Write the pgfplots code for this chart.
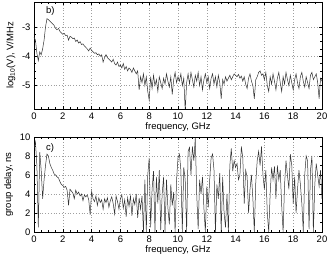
\documentclass[border=0pt]{standalone}
\usepackage{fontspec}
\setmainfont{Liberation Sans}
\usepackage{pgfplots}
\pgfplotsset{compat=1.18}
\usepackage{pgfplotstable}

\pgfplotstableread{
f v
0.0 -3.35
0.1 -3.45
0.2 -3.9
0.3 -4.15
0.4 -3.85
0.5 -3.95
0.6 -3.75
0.7 -3.45
0.8 -3.0
0.9 -2.72
1.0 -2.75
1.1 -2.8
1.2 -2.85
1.3 -2.9
1.4 -2.95
1.5 -3.05
1.6 -3.1
1.7 -3.05
1.8 -3.15
1.9 -3.2
2.0 -3.25
2.1 -3.22
2.2 -3.3
2.3 -3.28
2.4 -3.45
2.5 -3.32
2.6 -3.35
2.7 -3.4
2.8 -3.38
2.9 -3.5
3.0 -3.45
3.1 -3.55
3.2 -3.5
3.3 -3.6
3.4 -3.58
3.5 -3.65
3.6 -3.7
3.7 -3.75
3.8 -3.82
3.9 -3.72
4.0 -3.8
4.1 -3.85
4.2 -3.9
4.3 -3.88
4.4 -3.95
4.5 -3.92
4.6 -4.0
4.7 -3.95
4.8 -4.2
4.9 -4.05
5.0 -3.95
5.1 -4.05
5.2 -4.1
5.3 -4.15
5.4 -4.2
5.5 -4.1
5.6 -4.25
5.7 -4.3
5.8 -4.2
5.9 -4.35
6.0 -4.3
6.1 -4.4
6.2 -4.25
6.3 -4.45
6.4 -4.35
6.5 -4.5
6.6 -4.4
6.7 -4.45
6.8 -4.55
6.9 -4.4
7.0 -4.5
7.1 -4.6
7.2 -4.5
7.3 -5.15
7.4 -4.7
7.5 -4.9
7.6 -4.6
7.7 -5.0
7.8 -4.7
7.9 -5.2
8.0 -5.5
8.1 -4.7
8.2 -5.1
8.3 -4.65
8.4 -5.0
8.5 -4.8
8.6 -5.2
8.7 -4.7
8.8 -4.9
8.9 -5.1
9.0 -4.75
9.1 -4.95
9.2 -4.6
9.3 -4.85
9.4 -5.05
9.5 -4.7
9.6 -5.3
9.7 -4.8
9.8 -4.55
9.9 -4.9
10.0 -4.7
10.1 -4.85
10.2 -4.6
10.3 -5.0
10.4 -4.75
10.5 -5.85
10.6 -4.9
10.7 -4.6
10.8 -4.95
10.9 -4.55
11.0 -4.8
11.1 -5.05
11.2 -4.65
11.3 -4.85
11.4 -4.55
11.5 -5.0
11.6 -4.7
11.7 -5.15
11.8 -4.8
11.9 -4.6
12.0 -4.9
12.1 -4.7
12.2 -5.1
12.3 -4.75
12.4 -4.6
12.5 -4.95
12.6 -4.7
12.7 -5.05
12.8 -4.65
12.9 -4.9
13.0 -5.45
13.1 -4.8
13.2 -4.95
13.3 -4.7
13.4 -4.85
13.5 -4.75
13.6 -4.65
13.7 -4.8
13.8 -4.7
13.9 -4.6
14.0 -4.65
14.1 -4.7
14.2 -4.62
14.3 -4.75
14.4 -4.68
14.5 -4.85
14.6 -4.7
14.7 -4.95
14.8 -5.1
14.9 -4.75
15.0 -4.6
15.1 -4.85
15.2 -5.0
15.3 -5.45
15.4 -4.8
15.5 -4.7
15.6 -4.55
15.7 -4.5
15.8 -4.65
15.9 -4.6
16.0 -4.8
16.1 -4.55
16.2 -5.0
16.3 -5.2
16.4 -4.7
16.5 -4.95
16.6 -4.6
16.7 -4.85
16.8 -5.15
16.9 -4.75
17.0 -4.55
17.1 -4.9
17.2 -5.2
17.3 -4.7
17.4 -4.95
17.5 -4.55
17.6 -4.8
17.7 -5.0
17.8 -4.65
17.9 -4.9
18.0 -5.15
18.1 -4.8
18.2 -4.6
18.3 -4.9
18.4 -5.1
18.5 -4.7
18.6 -4.55
18.7 -4.85
18.8 -5.05
18.9 -4.7
19.0 -4.9
19.1 -5.1
19.2 -4.65
19.3 -4.55
19.4 -4.8
19.5 -4.7
19.6 -4.6
19.7 -4.9
19.8 -5.45
19.9 -4.75
20.0 -4.85
}\topdata

\pgfplotstableread{
f g
0.0 8.8
0.1 9.5
0.2 7.0
0.3 0.5
0.4 8.4
0.5 6.5
0.6 3.5
0.7 5.5
0.8 7.0
0.9 8.2
1.0 8.0
1.1 7.2
1.2 6.8
1.3 6.5
1.4 6.1
1.5 6.0
1.6 5.8
1.7 5.7
1.8 5.3
1.9 5.0
2.0 4.9
2.1 4.7
2.2 4.8
2.3 4.4
2.4 2.8
2.5 4.5
2.6 4.3
2.7 4.1
2.8 3.5
2.9 4.4
3.0 4.0
3.1 4.2
3.2 3.8
3.3 4.0
3.4 3.3
3.5 3.9
3.6 3.7
3.7 3.9
3.8 3.4
3.9 1.8
4.0 4.3
4.1 3.5
4.2 3.2
4.3 3.8
4.4 2.8
4.5 3.6
4.6 3.1
4.7 3.4
4.8 2.4
4.9 3.5
5.0 3.1
5.1 3.6
5.2 2.6
5.3 3.3
5.4 3.7
5.5 3.0
5.6 1.9
5.7 3.8
5.8 3.2
5.9 2.4
6.0 3.5
6.1 3.9
6.2 2.5
6.3 3.4
6.4 1.6
6.5 3.6
6.6 2.7
6.7 3.8
6.8 1.7
6.9 3.5
7.0 2.9
7.1 4.0
7.2 1.5
7.3 3.6
7.4 2.4
7.5 3.8
7.6 0.0
7.7 5.5
7.8 0.0
7.9 6.0
8.0 7.8
8.1 0.5
8.2 4.5
8.3 6.4
8.4 0.0
8.5 5.8
8.6 3.0
8.7 6.5
8.8 0.2
8.9 4.0
9.0 5.8
9.1 0.0
9.2 5.5
9.3 2.5
9.4 0.8
9.5 5.0
9.6 2.8
9.7 4.2
9.8 0.0
9.9 5.5
10.0 7.8
10.1 8.2
10.2 6.5
10.3 0.0
10.4 6.8
10.5 5.5
10.6 0.0
10.7 8.5
10.8 8.9
10.9 6.0
11.0 9.0
11.1 7.5
11.2 9.9
11.3 4.0
11.4 0.3
11.5 5.5
11.6 4.0
11.7 5.8
11.8 2.5
11.9 0.0
12.0 4.8
12.1 2.6
12.2 5.5
12.3 7.8
12.4 8.2
12.5 6.5
12.6 0.0
12.7 5.0
12.8 3.5
12.9 6.2
13.0 0.0
13.1 5.8
13.2 2.0
13.3 0.5
13.4 4.0
13.5 0.0
13.6 7.0
13.7 8.8
13.8 6.4
13.9 7.5
14.0 6.8
14.1 7.2
14.2 5.5
14.3 6.0
14.4 9.0
14.5 7.8
14.6 3.0
14.7 6.5
14.8 5.8
14.9 2.0
15.0 4.5
15.1 6.0
15.2 3.5
15.3 0.0
15.4 5.2
15.5 7.5
15.6 8.5
15.7 7.0
15.8 9.0
15.9 6.0
16.0 4.5
16.1 6.5
16.2 2.0
16.3 0.0
16.4 4.0
16.5 6.8
16.6 5.5
16.7 6.9
16.8 3.5
16.9 7.0
17.0 5.5
17.1 6.5
17.2 2.8
17.3 0.0
17.4 5.0
17.5 7.5
17.6 6.0
17.7 4.5
17.8 8.2
17.9 7.0
18.0 3.0
18.1 5.8
18.2 2.0
18.3 4.5
18.4 6.5
18.5 5.0
18.6 3.0
18.7 0.0
18.8 6.0
18.9 8.0
19.0 7.5
19.1 0.3
19.2 6.5
19.3 8.0
19.4 0.0
19.5 5.0
19.6 7.2
19.7 6.0
19.8 4.8
19.9 6.5
20.0 3.5
}\gddata

\pgfplotsset{
  mystyle/.style={
    scale only axis,
    width=288bp,
    xmin=0, xmax=20,
    xtick={0,2,...,20},
    minor x tick num=3,
    tick align=inside,
    xtick pos=both, ytick pos=both,
    grid=major,
    major grid style={dash pattern=on 0.6bp off 2.2bp, gray!75, line width=0.5bp},
    tick style={black, line width=0.4bp},
    major tick length=3bp,
    minor tick length=1.8bp,
    axis line style={black, line width=0.5bp},
    font=\fontsize{9.5}{11}\selectfont,
    /pgf/number format/assume math mode=true,
    xlabel={frequency, GHz},
    xlabel style={yshift=3bp},
    ylabel style={yshift=0bp},
    xticklabel style={yshift=0bp},
    clip=true,
  }
}

\begin{document}
\begin{tikzpicture}
\useasboundingbox (0,0) rectangle (330bp,257bp);
\begin{axis}[mystyle,
  at={(34bp,148bp)}, anchor=south west,
  height=107bp,
  ymin=-5.8, ymax=-2.15,
  ytick={-5,-4,-3},
  minor y tick num=3,
  ylabel={log\textsubscript{10}(V), V/MHz},
]
\addplot[black!80, line width=0.5bp] table[x=f, y=v] {\topdata};
\node[anchor=west] at (axis description cs:0.03,0.92) {b)};
\end{axis}
\begin{axis}[mystyle,
  at={(34bp,25bp)}, anchor=south west,
  height=95bp,
  ymin=0, ymax=10,
  ytick={0,2,...,10},
  minor y tick num=1,
  ylabel={group delay, ns},
]
\addplot[black!80, line width=0.5bp] table[x=f, y=g] {\gddata};
\node[anchor=west] at (axis description cs:0.03,0.88) {c)};
\end{axis}
\end{tikzpicture}
\end{document}
